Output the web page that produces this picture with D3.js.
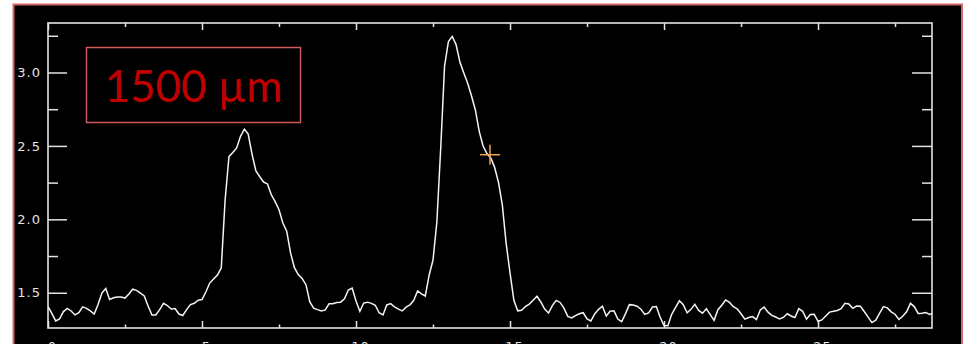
<!DOCTYPE html>
<html>
<head>
<meta charset="utf-8">
<style>
  body { margin: 0; background: #fff; }
  svg { display: block; }
  .tick text {
    font-family: "DejaVu Sans", sans-serif;
    font-size: 13px;
    fill: #e4e4e4;
    letter-spacing: 1px;
  }
  .tick line { stroke: #e4e4e4; stroke-width: 1.5; }
</style>
</head>
<body>
<svg></svg>
<script src="https://cdn.jsdelivr.net/npm/d3@7/dist/d3.min.js"></script>
<script>
  const width = 970,
        height = 344
  const plot = {left: 48, top: 23, right: 932, bottom: 328}

  // x axis in tick units, trace is sampled evenly along it
  const xMajor = [0, 1, 2, 3, 4, 5]
  const xMajorLabels = ["0", "5", "10", "15", "20", "25"]
  const xMinor = [0.5, 1.5, 2.5, 3.5, 4.5, 5.5]
  const xStart = 0,
        xStep = 0.025

  const yMajor = [1.5, 2.0, 2.5, 3.0]
  const yMinor = [1.75, 2.25, 2.75, 3.25]

  // profile
  const flux = [
    1.405, 1.359, 1.308, 1.321, 1.372, 1.394, 1.376, 1.349, 1.364, 1.404,
    1.394, 1.376, 1.355, 1.420, 1.498, 1.529, 1.454, 1.466, 1.471, 1.471,
    1.464, 1.492, 1.524, 1.516, 1.498, 1.478, 1.410, 1.348, 1.349, 1.385,
    1.428, 1.413, 1.389, 1.393, 1.355, 1.345, 1.385, 1.419, 1.428, 1.449,
    1.454, 1.505, 1.566, 1.594, 1.621, 1.669, 2.132, 2.427, 2.455, 2.486,
    2.565, 2.615, 2.581, 2.443, 2.329, 2.290, 2.254, 2.241, 2.167, 2.120,
    2.065, 1.975, 1.919, 1.771, 1.671, 1.624, 1.597, 1.555, 1.437, 1.395,
    1.385, 1.376, 1.383, 1.425, 1.425, 1.434, 1.436, 1.459, 1.519, 1.532,
    1.444, 1.374, 1.430, 1.436, 1.428, 1.415, 1.364, 1.349, 1.417, 1.426,
    1.403, 1.388, 1.376, 1.402, 1.417, 1.449, 1.512, 1.492, 1.478, 1.621,
    1.723, 1.982, 2.486, 3.044, 3.211, 3.246, 3.189, 3.069, 2.997, 2.927,
    2.840, 2.745, 2.599, 2.499, 2.448, 2.418, 2.354, 2.252, 2.098, 1.835,
    1.635, 1.449, 1.377, 1.381, 1.406, 1.423, 1.449, 1.476, 1.437, 1.389,
    1.362, 1.412, 1.448, 1.434, 1.395, 1.339, 1.328, 1.344, 1.357, 1.364,
    1.322, 1.308, 1.356, 1.387, 1.408, 1.342, 1.374, 1.377, 1.321, 1.303,
    1.358, 1.419, 1.417, 1.408, 1.388, 1.353, 1.363, 1.403, 1.406, 1.333,
    1.277, 1.276, 1.353, 1.401, 1.445, 1.419, 1.364, 1.387, 1.421, 1.380,
    1.361, 1.391, 1.351, 1.312, 1.385, 1.415, 1.451, 1.434, 1.405, 1.391,
    1.357, 1.320, 1.331, 1.338, 1.317, 1.383, 1.402, 1.368, 1.346, 1.335,
    1.321, 1.332, 1.357, 1.342, 1.332, 1.392, 1.374, 1.320, 1.352, 1.354,
    1.306, 1.315, 1.342, 1.368, 1.374, 1.379, 1.392, 1.428, 1.423, 1.394,
    1.409, 1.408, 1.372, 1.334, 1.297, 1.313, 1.362, 1.406, 1.397, 1.370,
    1.354, 1.318, 1.340, 1.370, 1.428, 1.406, 1.359, 1.360, 1.365, 1.353,
    1.362
  ]

  const marker = {x: 2.87, y: 2.44}
  const labelText = "1500 \u00b5m"

  const colors = {
    panel: '#000',
    border: '#d26868',
    axis: '#e4e4e4',
    trace: '#f4f4f4',
    marker: '#f0a255',
    label: '#c00000',
    labelBox: '#d05a5a'
  }

  const xScale = d3.scaleLinear()
    .domain([0, 5.74])
    .range([plot.left, plot.right])

  const yScale = d3.scaleLinear()
    .domain([1.26, 3.337])
    .range([plot.bottom, plot.top])

  const svg = d3.select("svg")
    .attr("width", width)
    .attr("height", height)

  // black panel with red border
  svg.append("rect")
    .attr("x", 13.5)
    .attr("y", 4.5)
    .attr("width", 948.5)
    .attr("height", 350)
    .attr("fill", colors.panel)
    .attr("stroke", colors.border)
    .attr("stroke-width", 2)

  svg.append("clipPath")
    .attr("id", "plotClip")
    .append("rect")
    .attr("x", plot.left)
    .attr("y", plot.top)
    .attr("width", plot.right - plot.left)
    .attr("height", plot.bottom - plot.top)

  // axes, ticks point inwards
  function drawAxis(axis, tx, ty) {
    const g = svg.append("g")
      .attr("transform", `translate(${tx}, ${ty})`)
      .call(axis)
    g.select(".domain").remove()
    return g
  }

  // the x labels sit below the panel edge, only their tops show
  drawAxis(d3.axisBottom(xScale).tickValues(xMajor)
      .tickFormat((d, i) => xMajorLabels[i])
      .tickSizeInner(-7).tickSizeOuter(0).tickPadding(14), 0, plot.bottom)
    .selectAll("text").attr("dx", 4)
  drawAxis(d3.axisBottom(xScale).tickValues(xMinor).tickFormat("")
      .tickSizeInner(-3.5).tickSizeOuter(0), 0, plot.bottom)
  drawAxis(d3.axisTop(xScale).tickValues(xMajor).tickFormat("")
      .tickSizeInner(-7).tickSizeOuter(0), 0, plot.top)
  drawAxis(d3.axisTop(xScale).tickValues(xMinor).tickFormat("")
      .tickSizeInner(-4).tickSizeOuter(0), 0, plot.top)

  drawAxis(d3.axisLeft(yScale).tickValues(yMajor).tickFormat(d3.format(".1f"))
      .tickSizeInner(-19).tickSizeOuter(0).tickPadding(7), plot.left, 0)
  drawAxis(d3.axisLeft(yScale).tickValues(yMinor).tickFormat("")
      .tickSizeInner(-10).tickSizeOuter(0), plot.left, 0)
  drawAxis(d3.axisRight(yScale).tickValues(yMajor).tickFormat("")
      .tickSizeInner(-20).tickSizeOuter(0), plot.right, 0)
  drawAxis(d3.axisRight(yScale).tickValues(yMinor).tickFormat("")
      .tickSizeInner(-10).tickSizeOuter(0), plot.right, 0)

  // frame
  svg.append("rect")
    .attr("x", plot.left)
    .attr("y", plot.top)
    .attr("width", plot.right - plot.left)
    .attr("height", plot.bottom - plot.top)
    .attr("fill", "none")
    .attr("stroke", colors.axis)
    .attr("stroke-width", 1.6)

  // trace
  const line = d3.line()
    .x((d, i) => xScale(xStart + i * xStep))
    .y(d => yScale(d))

  svg.append("path")
    .datum(flux)
    .attr("clip-path", "url(#plotClip)")
    .attr("d", line)
    .attr("fill", "none")
    .attr("stroke", colors.trace)
    .attr("stroke-width", 1.5)
    .attr("stroke-linejoin", "miter")

  // cursor cross
  const mx = xScale(marker.x),
        my = yScale(marker.y)
  svg.append("path")
    .attr("d", `M${mx - 10},${my}H${mx + 10}M${mx},${my - 10}V${my + 10}`)
    .attr("stroke", colors.marker)
    .attr("stroke-width", 1.5)
    .attr("fill", "none")

  // label box
  svg.append("rect")
    .attr("x", 86.5)
    .attr("y", 47.5)
    .attr("width", 214)
    .attr("height", 75)
    .attr("fill", colors.panel)
    .attr("stroke", colors.labelBox)
    .attr("stroke-width", 1.5)

  svg.append("text")
    .attr("x", 193.5)
    .attr("y", 102)
    .attr("text-anchor", "middle")
    .style("font-family", "Lato, 'Open Sans', sans-serif")
    .style("font-size", "44px")
    .style("fill", colors.label)
    .text(labelText)
</script>
</body>
</html>
